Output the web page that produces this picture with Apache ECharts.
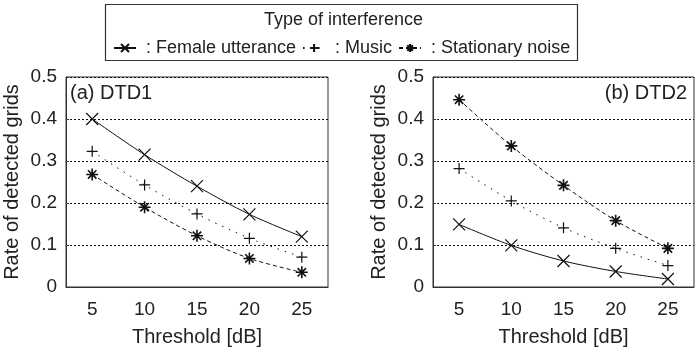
<!DOCTYPE html>
<html>
<head>
<meta charset="utf-8">
<script src="https://cdn.jsdelivr.net/npm/echarts@6/dist/echarts.min.js"></script>
<style>
  html, body { margin: 0; padding: 0; background: #fff; }
  #chart { width: 698px; height: 352px; }
</style>
</head>
<body>
<div id="chart"></div>
<script>
// thresholds (dB)
const thresholds = ['5', '10', '15', '20', '25']
const typeNames = ['Female utterance', 'Music', 'Stationary noise']

// (a) DTD1
const dtd1Female = [0.40, 0.315, 0.240, 0.173, 0.120]
const dtd1Music = [0.323, 0.243, 0.174, 0.116, 0.071]
const dtd1Noise = [0.268, 0.190, 0.122, 0.068, 0.035]

// (b) DTD2
const dtd2Female = [0.149, 0.099, 0.062, 0.037, 0.019]
const dtd2Music = [0.282, 0.205, 0.141, 0.092, 0.051]
const dtd2Noise = [0.446, 0.336, 0.242, 0.158, 0.092]

const font = "'Liberation Sans', Arial, sans-serif"
const ink = '#222'

const symbols = {
  'Female utterance': 'path://M0 0L10 10M10 0L0 10',
  'Music': 'path://M5 0L5 10M0 5L10 5',
  'Stationary noise': 'path://M5 0L5 10M0 5L10 5M1.5 1.5L8.5 8.5M8.5 1.5L1.5 8.5',
}
const dashes = {
  'Female utterance': 'solid',
  'Music': [1.5, 6],
  'Stationary noise': [4, 3],
}

const chart = echarts.init(document.getElementById('chart'))

const makeGrid = (left, width) => ({
  left, top: 77, width, height: 212,
  show: true, borderColor: '#333', borderWidth: 1,
})

const makeX = (gridIndex) => ({
  type: 'category', gridIndex, data: thresholds, boundaryGap: true,
  axisLine: { lineStyle: { color: '#333' } },
  axisTick: { alignWithLabel: true, inside: true, length: 3, lineStyle: { color: '#333' } },
  axisLabel: { fontSize: 19, color: ink, margin: 13, fontFamily: font },
  name: 'Threshold [dB]', nameLocation: 'middle', nameGap: 40,
  nameTextStyle: { fontSize: 20, color: ink, fontFamily: font },
})

const makeY = (gridIndex) => ({
  type: 'value', gridIndex, min: 0, max: 0.5, interval: 0.1,
  axisLine: { show: true, lineStyle: { color: '#333' } },
  axisTick: { show: true, inside: true, length: 3, lineStyle: { color: '#333' } },
  axisLabel: {
    fontSize: 19, color: ink, margin: 9, fontFamily: font,
    formatter: (v) => (v === 0 ? '0' : v.toFixed(1)),
  },
  splitLine: { show: true, lineStyle: { color: '#111', type: [2, 2], width: 1 } },
  name: 'Rate of detected grids', nameLocation: 'middle', nameGap: 44,
  nameTextStyle: { fontSize: 20, color: ink, fontFamily: font },
})

const makeSeries = (name, data, idx) => ({
  name, type: 'line', xAxisIndex: idx, yAxisIndex: idx, data,
  smooth: 0.3,
  symbol: symbols[name],
  symbolSize: name === 'Music' ? 11 : 12,
  itemStyle: { color: 'none', borderColor: '#111', borderWidth: name === 'Stationary noise' ? 1.6 : 1.2 },
  lineStyle: { color: '#111', width: 1, type: dashes[name] },
  emphasis: { disabled: true },
  z: 3,
})

const option = {
  animation: false,
  grid: [makeGrid(66, 262), makeGrid(433, 261)],
  xAxis: [makeX(0), makeX(1)],
  yAxis: [makeY(0), makeY(1)],
  legend: {
    data: typeNames,
    left: 108, top: 34,
    itemGap: 6, itemWidth: 22, itemHeight: 10,
    formatter: (n) => ' : ' + n,
    textStyle: { fontSize: 18, color: ink, fontFamily: font },
    selectedMode: false,
  },
  graphic: [
    { type: 'rect', left: 103, top: 2, shape: { width: 472, height: 56 },
      style: { fill: 'none', stroke: '#333', lineWidth: 1.2 } },
    { type: 'text', left: 264, top: 11, style: { text: 'Type of interference', fontSize: 18, fill: ink, fontFamily: font } },
    { type: 'text', left: 70, top: 83, style: { text: '(a) DTD1', fontSize: 20, fill: ink, fontFamily: font } },
    { type: 'text', right: 11, top: 83, style: { text: '(b) DTD2', fontSize: 20, fill: ink, fontFamily: font } },
  ],
  series: [
    makeSeries('Female utterance', dtd1Female, 0),
    makeSeries('Music', dtd1Music, 0),
    makeSeries('Stationary noise', dtd1Noise, 0),
    makeSeries('Female utterance', dtd2Female, 1),
    makeSeries('Music', dtd2Music, 1),
    makeSeries('Stationary noise', dtd2Noise, 1),
  ],
}
chart.setOption(option)
</script>
</body>
</html>
